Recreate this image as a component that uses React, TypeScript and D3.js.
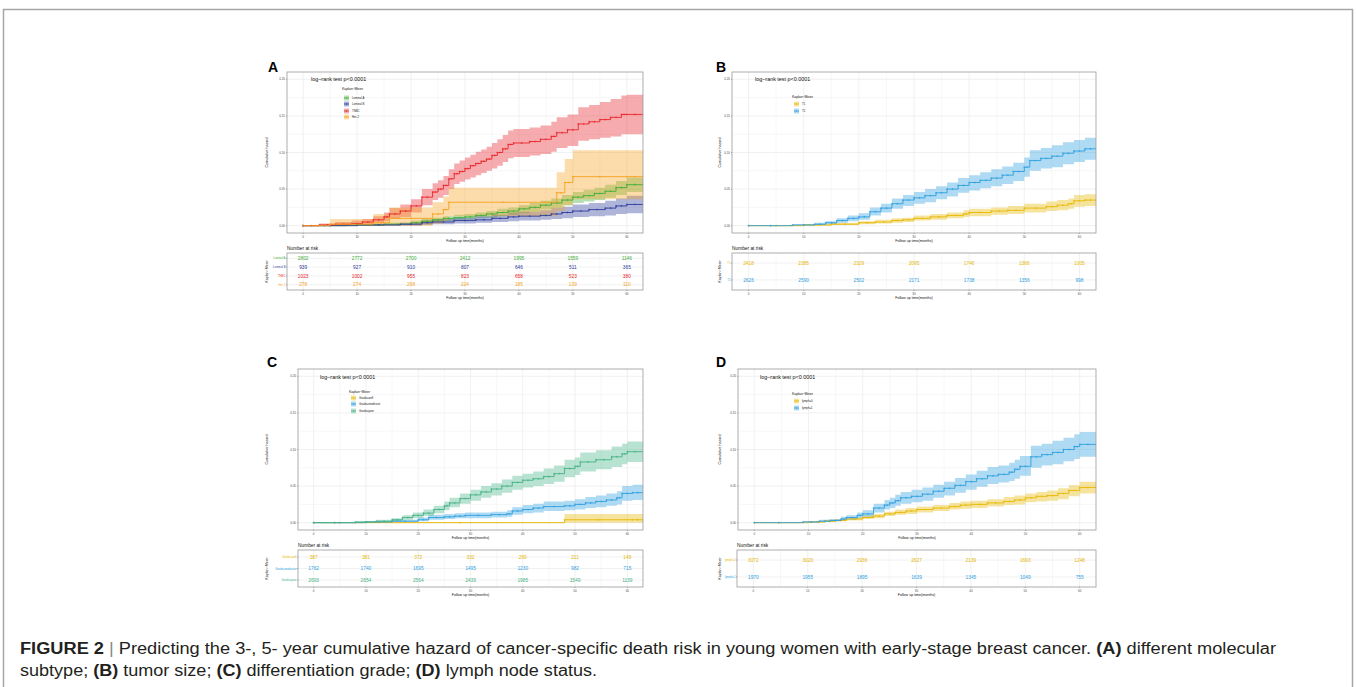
import React from "react";
import * as d3 from "d3";

// [month, cumulative hazard, lower CI, upper CI]
type Step = [number, number, number, number];

const months = [0, 10, 20, 30, 40, 50, 60];
const minorMonths = [5, 15, 25, 35, 45, 55];
const hazardTicks = [0, 0.05, 0.1, 0.15, 0.2];
const minorHazard = [0.025, 0.075, 0.125, 0.175];

// ---- A: molecular subtype
const subtypeNames = ["Luminal A", "Luminal B", "TNBC", "Her-2"];
const subtypeColors = ["#3FAE3A", "#2E3B9C", "#E8262A", "#F5A21F"];
const lumA: Step[] = [
  [0, 0, 0, 0], [8, 0.001, 0, 0.002], [15, 0.002, 0.001, 0.004], [20, 0.004, 0.002, 0.007],
  [22, 0.006, 0.003, 0.009], [24, 0.008, 0.005, 0.011], [26, 0.01, 0.006, 0.013], [28, 0.011, 0.007, 0.015],
  [30, 0.012, 0.008, 0.016], [32, 0.014, 0.01, 0.018], [34, 0.016, 0.011, 0.02], [36, 0.018, 0.013, 0.023],
  [38, 0.02, 0.015, 0.025], [40, 0.023, 0.017, 0.028], [42, 0.025, 0.019, 0.031], [44, 0.028, 0.022, 0.034],
  [46, 0.031, 0.024, 0.037], [48, 0.035, 0.028, 0.042], [50, 0.039, 0.031, 0.046], [52, 0.041, 0.033, 0.049],
  [54, 0.044, 0.035, 0.052], [56, 0.047, 0.038, 0.056], [58, 0.052, 0.042, 0.061], [60, 0.056, 0.046, 0.066],
];
const lumB: Step[] = [
  [0, 0, 0, 0], [10, 0.001, 0, 0.002], [18, 0.002, 0, 0.004], [22, 0.004, 0.001, 0.007],
  [24, 0.005, 0.002, 0.009], [28, 0.007, 0.003, 0.011], [32, 0.008, 0.004, 0.013], [35, 0.01, 0.005, 0.015],
  [38, 0.012, 0.006, 0.018], [40, 0.013, 0.007, 0.019], [44, 0.014, 0.008, 0.021], [46, 0.016, 0.009, 0.024],
  [48, 0.018, 0.01, 0.026], [50, 0.02, 0.012, 0.029], [53, 0.022, 0.013, 0.031], [56, 0.024, 0.014, 0.034],
  [58, 0.027, 0.016, 0.037], [60, 0.029, 0.017, 0.041],
];
const tnbc: Step[] = [
  [0, 0, 0, 0], [3, 0.001, 0, 0.003], [6, 0.002, 0, 0.005], [9, 0.003, 0.001, 0.007],
  [11, 0.005, 0.001, 0.009], [13, 0.008, 0.003, 0.013], [15, 0.012, 0.006, 0.018], [16, 0.016, 0.009, 0.024],
  [18, 0.02, 0.012, 0.029], [20, 0.027, 0.018, 0.036], [22, 0.039, 0.028, 0.05], [24, 0.046, 0.035, 0.058],
  [25, 0.05, 0.038, 0.062], [26, 0.055, 0.042, 0.068], [27, 0.064, 0.05, 0.077], [28, 0.071, 0.057, 0.085],
  [29, 0.074, 0.06, 0.089], [30, 0.078, 0.063, 0.093], [31, 0.082, 0.066, 0.097], [32, 0.085, 0.069, 0.101],
  [33, 0.088, 0.072, 0.104], [34, 0.091, 0.075, 0.108], [35, 0.096, 0.078, 0.113], [36, 0.1, 0.082, 0.118],
  [37, 0.105, 0.087, 0.124], [38, 0.111, 0.092, 0.13], [39, 0.113, 0.094, 0.132], [42, 0.115, 0.096, 0.134],
  [44, 0.118, 0.098, 0.137], [46, 0.122, 0.101, 0.142], [47, 0.127, 0.106, 0.148], [49, 0.131, 0.109, 0.152],
  [51, 0.139, 0.116, 0.162], [53, 0.142, 0.118, 0.165], [55, 0.145, 0.12, 0.169], [57, 0.148, 0.122, 0.173],
  [59, 0.152, 0.125, 0.178], [60, 0.152, 0.125, 0.179],
];
const her2: Step[] = [
  [0, 0, 0, 0], [5, 0.002, 0, 0.009], [13, 0.004, 0, 0.016], [16, 0.01, 0, 0.025],
  [24, 0.016, 0.003, 0.032], [26, 0.022, 0.007, 0.04], [27, 0.032, 0.013, 0.052], [47, 0.045, 0.02, 0.073],
  [48.5, 0.059, 0.028, 0.091], [50, 0.067, 0.036, 0.103], [60, 0.067, 0.036, 0.103],
];
const riskLumA = [2802, 2772, 2700, 2412, 1995, 1559, 1146];
const riskLumB = [939, 927, 910, 807, 646, 511, 365];
const riskTnbc = [1023, 1002, 955, 823, 658, 523, 380];
const riskHer2 = [278, 274, 268, 224, 185, 139, 110];

// ---- B: tumor size
const sizeNames = ["T1", "T2"];
const yellow = "#E7B800";
const blue = "#2E9FDF";
const green = "#45B286";
const t1: Step[] = [
  [0, 0, 0, 0], [10, 0.001, 0, 0.002], [15, 0.002, 0.001, 0.004], [20, 0.004, 0.002, 0.006],
  [23, 0.005, 0.003, 0.008], [26, 0.007, 0.004, 0.01], [28, 0.008, 0.005, 0.011], [30, 0.01, 0.007, 0.014],
  [33, 0.012, 0.008, 0.016], [36, 0.014, 0.01, 0.018], [39, 0.016, 0.012, 0.021], [40, 0.018, 0.013, 0.023],
  [44, 0.02, 0.015, 0.025], [47, 0.021, 0.016, 0.027], [50, 0.024, 0.018, 0.03], [54, 0.026, 0.02, 0.033],
  [56, 0.028, 0.021, 0.035], [58, 0.03, 0.023, 0.037], [59, 0.034, 0.026, 0.042], [61, 0.035, 0.027, 0.043],
];
const t2: Step[] = [
  [0, 0, 0, 0], [8, 0.001, 0, 0.002], [12, 0.002, 0.001, 0.004], [14, 0.004, 0.002, 0.006],
  [16, 0.007, 0.004, 0.01], [18, 0.01, 0.006, 0.014], [20, 0.012, 0.008, 0.017], [22, 0.019, 0.014, 0.025],
  [24, 0.024, 0.018, 0.03], [26, 0.03, 0.023, 0.037], [28, 0.035, 0.027, 0.042], [30, 0.038, 0.03, 0.046],
  [32, 0.041, 0.032, 0.05], [34, 0.045, 0.036, 0.054], [36, 0.05, 0.04, 0.059], [38, 0.055, 0.045, 0.065],
  [40, 0.059, 0.048, 0.069], [42, 0.062, 0.051, 0.073], [44, 0.065, 0.054, 0.077], [46, 0.069, 0.057, 0.081],
  [48, 0.074, 0.061, 0.086], [50, 0.08, 0.067, 0.093], [51, 0.089, 0.075, 0.103], [53, 0.092, 0.078, 0.106],
  [55, 0.095, 0.08, 0.11], [57, 0.099, 0.084, 0.114], [59, 0.102, 0.087, 0.117], [61, 0.105, 0.09, 0.12],
];
const riskT1 = [2418, 2385, 2329, 2095, 1746, 1366, 1005];
const riskT2 = [2626, 2590, 2502, 2171, 1738, 1356, 998];

// ---- C: differentiation grade
const gradeNames = ["Grade=well", "Grade=moderate", "Grade=poor"];
const gradeWell: Step[] = [
  [0, 0, 0, 0], [8, 0, 0, 0.001], [48, 0.004, 0, 0.012], [61, 0.004, 0, 0.012],
];
const gradeModerate: Step[] = [
  [0, 0, 0, 0], [10, 0.001, 0, 0.002], [15, 0.002, 0.001, 0.004], [20, 0.004, 0.002, 0.007],
  [22, 0.007, 0.004, 0.011], [25, 0.008, 0.005, 0.012], [27, 0.009, 0.006, 0.013], [29, 0.01, 0.006, 0.014],
  [34, 0.011, 0.007, 0.015], [37, 0.012, 0.008, 0.017], [38, 0.016, 0.011, 0.021], [40, 0.018, 0.013, 0.024],
  [42, 0.02, 0.014, 0.026], [44, 0.022, 0.016, 0.029], [48, 0.023, 0.017, 0.03], [50, 0.025, 0.018, 0.032],
  [52, 0.027, 0.02, 0.035], [54, 0.029, 0.021, 0.037], [56, 0.031, 0.023, 0.04], [58, 0.034, 0.025, 0.043],
  [59, 0.04, 0.03, 0.05], [61, 0.041, 0.031, 0.052],
];
const gradePoor: Step[] = [
  [0, 0, 0, 0], [8, 0.001, 0, 0.002], [12, 0.002, 0.001, 0.004], [15, 0.004, 0.002, 0.006],
  [17, 0.007, 0.004, 0.01], [19, 0.01, 0.006, 0.014], [21, 0.013, 0.009, 0.018], [23, 0.018, 0.013, 0.023],
  [25, 0.023, 0.017, 0.029], [26, 0.027, 0.021, 0.034], [28, 0.033, 0.026, 0.04], [30, 0.038, 0.03, 0.045],
  [32, 0.042, 0.034, 0.05], [34, 0.046, 0.037, 0.054], [36, 0.05, 0.041, 0.059], [38, 0.055, 0.045, 0.064],
  [40, 0.058, 0.048, 0.067], [42, 0.06, 0.05, 0.07], [44, 0.063, 0.053, 0.074], [46, 0.067, 0.056, 0.078],
  [48, 0.074, 0.062, 0.086], [50, 0.077, 0.065, 0.089], [51, 0.083, 0.07, 0.096], [54, 0.086, 0.073, 0.099],
  [57, 0.09, 0.076, 0.104], [59, 0.094, 0.08, 0.108], [60, 0.097, 0.083, 0.111],
];
const riskWell = [387, 381, 372, 332, 269, 211, 149];
const riskModerate = [1762, 1740, 1695, 1495, 1230, 982, 715];
const riskPoor = [2693, 2654, 2564, 2439, 1985, 1549, 1139];

// ---- D: lymph node status
const lymphNames = ["lymph=0", "lymph=1"];
const lymph0: Step[] = [
  [0, 0, 0, 0], [10, 0.001, 0, 0.002], [13, 0.002, 0.001, 0.004], [15, 0.003, 0.002, 0.005],
  [17, 0.005, 0.003, 0.007], [20, 0.007, 0.005, 0.01], [22, 0.009, 0.006, 0.012], [24, 0.012, 0.009, 0.015],
  [26, 0.014, 0.011, 0.018], [28, 0.016, 0.012, 0.02], [30, 0.018, 0.014, 0.022], [33, 0.02, 0.016, 0.024],
  [36, 0.022, 0.018, 0.027], [38, 0.024, 0.019, 0.029], [40, 0.025, 0.02, 0.03], [43, 0.027, 0.022, 0.032],
  [46, 0.029, 0.024, 0.035], [48, 0.031, 0.025, 0.037], [50, 0.034, 0.028, 0.04], [52, 0.036, 0.029, 0.042],
  [54, 0.037, 0.03, 0.044], [56, 0.04, 0.032, 0.047], [58, 0.044, 0.036, 0.051], [60, 0.048, 0.04, 0.056],
];
const lymph1: Step[] = [
  [0, 0, 0, 0], [9, 0.001, 0, 0.002], [12, 0.002, 0.001, 0.004], [14, 0.003, 0.002, 0.005],
  [16, 0.005, 0.003, 0.008], [17, 0.007, 0.004, 0.01], [19, 0.01, 0.006, 0.014], [20, 0.012, 0.008, 0.017],
  [22, 0.02, 0.014, 0.026], [24, 0.024, 0.018, 0.031], [25, 0.027, 0.02, 0.034], [26, 0.03, 0.023, 0.038],
  [27, 0.034, 0.026, 0.042], [29, 0.036, 0.028, 0.045], [31, 0.039, 0.03, 0.048], [33, 0.043, 0.034, 0.052],
  [35, 0.047, 0.037, 0.056], [37, 0.051, 0.041, 0.061], [39, 0.056, 0.045, 0.066], [41, 0.06, 0.049, 0.071],
  [43, 0.064, 0.053, 0.076], [45, 0.066, 0.055, 0.078], [47, 0.069, 0.057, 0.082], [48, 0.073, 0.06, 0.086],
  [49, 0.077, 0.064, 0.091], [51, 0.09, 0.075, 0.105], [53, 0.093, 0.078, 0.108], [55, 0.096, 0.08, 0.112],
  [57, 0.1, 0.084, 0.116], [59, 0.104, 0.087, 0.121], [60, 0.107, 0.09, 0.124],
];
const riskLymph0 = [3072, 3020, 2936, 2627, 2139, 1693, 1248];
const riskLymph1 = [1970, 1955, 1895, 1639, 1345, 1049, 755];

const FONT = "'Liberation Sans', Arial, Helvetica, sans-serif";

type PanelDef = {
  letter: string;
  names: string[];
  colors: string[];
  curves: Step[][];
  risk: number[][];
  box: { l: number; r: number; t: number; b: number };
  tab: { l: number; t: number; b: number };
  leg: { x: number; y: number; keyY: number[] };
  lr: { x: number; y: number };
  lab: { x: number; y: number };
  yTitleX: number;
};

const panels: PanelDef[] = [
  {
    letter: "A", names: subtypeNames, colors: subtypeColors,
    curves: [lumA, lumB, tnbc, her2], risk: [riskLumA, riskLumB, riskTnbc, riskHer2],
    box: { l: 287, r: 643, t: 72, b: 233 }, tab: { l: 287, t: 253, b: 290 },
    leg: { x: 342, y: 90, keyY: [98, 104, 111, 117] }, lr: { x: 311, y: 81 },
    lab: { x: 268, y: 72 }, yTitleX: 268,
  },
  {
    letter: "B", names: sizeNames, colors: [yellow, blue],
    curves: [t1, t2], risk: [riskT1, riskT2],
    box: { l: 732, r: 1096, t: 72, b: 233 }, tab: { l: 732, t: 253, b: 290 },
    leg: { x: 792, y: 98, keyY: [104, 111] }, lr: { x: 755, y: 81 },
    lab: { x: 716, y: 72 }, yTitleX: 721,
  },
  {
    letter: "C", names: gradeNames, colors: [yellow, blue, green],
    curves: [gradeWell, gradeModerate, gradePoor], risk: [riskWell, riskModerate, riskPoor],
    box: { l: 298, r: 643, t: 369, b: 530 }, tab: { l: 298, t: 550, b: 587 },
    leg: { x: 349, y: 393, keyY: [398, 404, 411] }, lr: { x: 320, y: 379 },
    lab: { x: 267, y: 367 }, yTitleX: 268,
  },
  {
    letter: "D", names: lymphNames, colors: [yellow, blue],
    curves: [lymph0, lymph1], risk: [riskLymph0, riskLymph1],
    box: { l: 738, r: 1096, t: 369, b: 530 }, tab: { l: 737, t: 550, b: 587 },
    leg: { x: 792, y: 395, keyY: [401, 408] }, lr: { x: 760, y: 379 },
    lab: { x: 716, y: 367 }, yTitleX: 721,
  },
];

const grid = "#ebebeb";
const frame = "#9a9a9a";
const tickCol = "#4d4d4d";

function Panel({ p }: { p: PanelDef }) {
  const x = d3.scaleLinear().domain([-3, 63]).range([p.box.l, p.box.r]);
  const y = d3.scaleLinear().domain([-0.01, 0.21]).range([p.box.b, p.box.t]);
  const tx = d3.scaleLinear().domain([-3, 63]).range([p.tab.l, p.box.r]);
  const ty = d3.scalePoint<string>().domain(p.names).range([p.tab.t, p.tab.b]).padding(0.6);
  const xEnd = x.domain()[1];

  const extend = (s: Step[]): Step[] => {
    const last = s[s.length - 1];
    return [...s, [xEnd, last[1], last[2], last[3]]];
  };
  const area = d3.area<Step>().x((d) => x(d[0])).y0((d) => y(d[2])).y1((d) => y(d[3])).curve(d3.curveStepAfter);
  const line = d3.line<Step>().x((d) => x(d[0])).y((d) => y(d[1])).curve(d3.curveStepAfter);
  const clipId = `clip-${p.letter}`;

  // censor marks at each step and mid-step
  const marks = (s: Step[]) => {
    const e = extend(s);
    const out: [number, number][] = [];
    e.forEach((d, i) => {
      if (i < e.length - 1) {
        out.push([d[0], d[1]]);
        out.push([(d[0] + e[i + 1][0]) / 2, d[1]]);
      }
    });
    return out;
  };

  const midY = (p.box.t + p.box.b) / 2;
  const tabMid = (p.tab.t + p.tab.b) / 2;

  return (
    <g>
      <text x={p.lab.x} y={p.lab.y} fontSize={14} fontWeight="bold" fontFamily="Arial, Helvetica, sans-serif">{p.letter}</text>

      {/* plot grid */}
      <rect x={p.box.l} y={p.box.t} width={p.box.r - p.box.l} height={p.box.b - p.box.t} fill="#fff" />
      {minorMonths.map((m) => <line key={"mx" + m} x1={x(m)} x2={x(m)} y1={p.box.t} y2={p.box.b} stroke={grid} strokeWidth={0.4} />)}
      {minorHazard.map((h) => <line key={"my" + h} x1={p.box.l} x2={p.box.r} y1={y(h)} y2={y(h)} stroke={grid} strokeWidth={0.4} />)}
      {months.map((m) => <line key={"gx" + m} x1={x(m)} x2={x(m)} y1={p.box.t} y2={p.box.b} stroke={grid} strokeWidth={0.7} />)}
      {hazardTicks.map((h) => <line key={"gy" + h} x1={p.box.l} x2={p.box.r} y1={y(h)} y2={y(h)} stroke={grid} strokeWidth={0.7} />)}

      <clipPath id={clipId}>
        <rect x={p.box.l} y={p.box.t} width={p.box.r - p.box.l} height={p.box.b - p.box.t} />
      </clipPath>
      <g clipPath={`url(#${clipId})`}>
        {p.curves.map((c, i) => (
          <path key={"a" + i} d={area(extend(c)) || ""} fill={p.colors[i]} fillOpacity={0.38} />
        ))}
        {p.curves.map((c, i) => (
          <g key={"l" + i}>
            <path d={line(extend(c)) || ""} fill="none" stroke={p.colors[i]} strokeWidth={0.9} />
            {marks(c).map((m, j) => (
              <g key={j} stroke={p.colors[i]} strokeWidth={0.5}>
                <line x1={x(m[0]) - 1} x2={x(m[0]) + 1} y1={y(m[1])} y2={y(m[1])} />
                <line x1={x(m[0])} x2={x(m[0])} y1={y(m[1]) - 1} y2={y(m[1]) + 1} />
              </g>
            ))}
          </g>
        ))}
      </g>
      <rect x={p.box.l} y={p.box.t} width={p.box.r - p.box.l} height={p.box.b - p.box.t} fill="none" stroke={frame} strokeWidth={0.8} />

      {/* axes */}
      {hazardTicks.map((h) => (
        <g key={"yt" + h}>
          <line x1={p.box.l - 1} x2={p.box.l} y1={y(h)} y2={y(h)} stroke={tickCol} strokeWidth={0.4} />
          <text x={p.box.l - 2} y={y(h) + 1} fontSize={3} textAnchor="end" fill={tickCol} fontFamily={FONT}>{h.toFixed(2)}</text>
        </g>
      ))}
      {months.map((m) => (
        <g key={"xt" + m}>
          <line x1={x(m)} x2={x(m)} y1={p.box.b} y2={p.box.b + 1} stroke={tickCol} strokeWidth={0.4} />
          <text x={x(m)} y={p.box.b + 4.5} fontSize={3} textAnchor="middle" fill={tickCol} fontFamily={FONT}>{m}</text>
        </g>
      ))}
      <text x={(p.box.l + p.box.r) / 2} y={p.box.b + 8.5} fontSize={3.6} textAnchor="middle" fill="#111" fontFamily={FONT}>Follow up time(months)</text>
      <text transform={`translate(${p.yTitleX},${midY}) rotate(-90)`} fontSize={3.6} textAnchor="middle" fill="#111" fontFamily={FONT}>Cumulative hazard</text>

      <text x={p.lr.x} y={p.lr.y} fontSize={5.4} fill="#111" fontFamily={FONT}>log−rank test p&lt;0.0001</text>

      {/* legend */}
      <text x={p.leg.x} y={p.leg.y} fontSize={3.4} fill="#111" fontFamily={FONT}>Kaplan−Meier</text>
      {p.names.map((n, i) => {
        const ky = p.leg.keyY[i];
        const kx = p.leg.x + 2;
        return (
          <g key={"lg" + n}>
            <rect x={kx} y={ky - 2.5} width={5} height={5} fill={p.colors[i]} fillOpacity={0.38} />
            <line x1={kx} x2={kx + 5} y1={ky} y2={ky} stroke={p.colors[i]} strokeWidth={0.8} />
            <line x1={kx + 2.5} x2={kx + 2.5} y1={ky - 1} y2={ky + 1} stroke={p.colors[i]} strokeWidth={0.5} />
            <text x={kx + 8} y={ky + 1} fontSize={2.8} fill="#222" fontFamily={FONT}>{n}</text>
          </g>
        );
      })}

      {/* risk table */}
      <text x={p.tab.l} y={p.tab.t - 3} fontSize={4.8} fill="#111" fontFamily={FONT}>Number at risk</text>
      <rect x={p.tab.l} y={p.tab.t} width={p.box.r - p.tab.l} height={p.tab.b - p.tab.t} fill="#fff" />
      {minorMonths.map((m) => <line key={"tmx" + m} x1={tx(m)} x2={tx(m)} y1={p.tab.t} y2={p.tab.b} stroke={grid} strokeWidth={0.4} />)}
      {months.map((m) => <line key={"tgx" + m} x1={tx(m)} x2={tx(m)} y1={p.tab.t} y2={p.tab.b} stroke={grid} strokeWidth={0.7} />)}
      {p.names.map((n) => <line key={"tgy" + n} x1={p.tab.l} x2={p.box.r} y1={ty(n)!} y2={ty(n)!} stroke={grid} strokeWidth={0.7} />)}
      <rect x={p.tab.l} y={p.tab.t} width={p.box.r - p.tab.l} height={p.tab.b - p.tab.t} fill="none" stroke={frame} strokeWidth={0.8} />
      {p.names.map((n, i) => (
        <g key={"row" + n}>
          <line x1={p.tab.l - 1} x2={p.tab.l} y1={ty(n)!} y2={ty(n)!} stroke={tickCol} strokeWidth={0.4} />
          <text x={p.tab.l - 1.5} y={ty(n)! + 1} fontSize={2.8} textAnchor="end" fill={p.colors[i]} fontFamily={FONT}>{n}</text>
          {p.risk[i].map((v, j) => (
            <text key={j} x={tx(months[j])} y={ty(n)! + 1.7} fontSize={4.8} textAnchor="middle" fill={p.colors[i]} fontFamily={FONT}>{v}</text>
          ))}
        </g>
      ))}
      {months.map((m) => (
        <g key={"txt" + m}>
          <line x1={tx(m)} x2={tx(m)} y1={p.tab.b} y2={p.tab.b + 1} stroke={tickCol} strokeWidth={0.4} />
          <text x={tx(m)} y={p.tab.b + 4.5} fontSize={3} textAnchor="middle" fill={tickCol} fontFamily={FONT}>{m}</text>
        </g>
      ))}
      <text x={(p.tab.l + p.box.r) / 2} y={p.tab.b + 8.5} fontSize={3.6} textAnchor="middle" fill="#111" fontFamily={FONT}>Follow up time(months)</text>
      <text transform={`translate(${p.yTitleX},${tabMid}) rotate(-90)`} fontSize={3.6} textAnchor="middle" fill="#111" fontFamily={FONT}>Kaplan−Meier</text>
    </g>
  );
}

export default function App() {
  return (
    <svg width={1356} height={687} style={{ position: "absolute", left: 0, top: 0, display: "block", background: "#fff" }}>
      <rect x={3.5} y={9.5} width={1349} height={700} fill="#fff" stroke="#a6a6a6" strokeWidth={1.5} />
      {panels.map((p) => <Panel key={p.letter} p={p} />)}
      <text x={20} y={654} fontSize={16} fill="#231f20" fontFamily={FONT} textLength={1256} lengthAdjust="spacingAndGlyphs">
        <tspan fontWeight="bold">FIGURE 2</tspan>
        <tspan fill="#888"> | </tspan>
        <tspan>Predicting the 3-, 5- year cumulative hazard of cancer-specific death risk in young women with early-stage breast cancer. </tspan>
        <tspan fontWeight="bold">(A)</tspan>
        <tspan> different molecular</tspan>
      </text>
      <text x={20} y={676} fontSize={16} fill="#231f20" fontFamily={FONT} textLength={577} lengthAdjust="spacingAndGlyphs">
        <tspan>subtype; </tspan>
        <tspan fontWeight="bold">(B)</tspan>
        <tspan> tumor size; </tspan>
        <tspan fontWeight="bold">(C)</tspan>
        <tspan> differentiation grade; </tspan>
        <tspan fontWeight="bold">(D)</tspan>
        <tspan> lymph node status.</tspan>
      </text>
    </svg>
  );
}
